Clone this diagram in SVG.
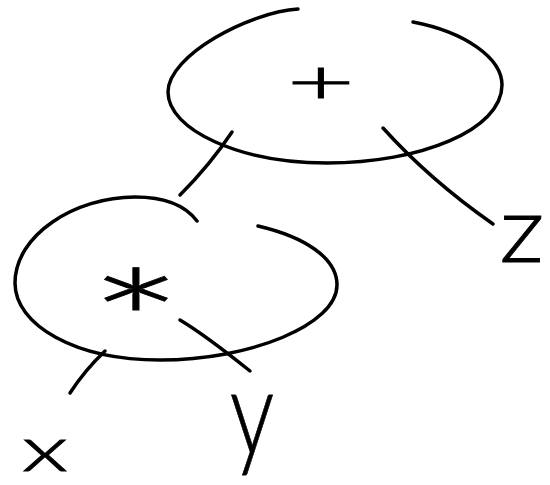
<svg xmlns="http://www.w3.org/2000/svg" width="550" height="485" viewBox="0 0 550 485">
<style>
.s{fill:none;stroke:#000;stroke-width:3.5;stroke-linecap:round;stroke-linejoin:round}
.t{font-family:Lato,"Liberation Sans",sans-serif;font-weight:300;fill:#000;stroke:#000;stroke-width:0.8;text-anchor:middle}
</style>
<rect width="550" height="485" fill="#fff"/>
<g id="connectors">
<path class="s" d="M232,132 Q210,165 180,195"/>
<path class="s" d="M383,128 Q430,180 493,224"/>
<path class="s" d="M105,351 Q85,370 70,393"/>
<path class="s" d="M180,320 Q205,335 250,371"/>
</g>
<g id="node-plus">
<path class="s" d="M413,22 C465,32 502,58 502,85 C502,130 420,163 327,163 C240,163 168,130 168,92 C168,55 250,12 298,9"/>
<text class="t" font-size="62" transform="translate(321,83) scale(1.9,1)" y="20">+</text>
</g>
<g id="node-times">
<path class="s" d="M258,226 C305,237 337,258 337,285 C337,325 250,360 160,360 C75,360 15,325 15,283 C15,235 75,197 135,197 C165,197 185,205 197,221"/>
<text class="t" font-size="142" transform="translate(136,297) scale(1.6,1)" y="77">*</text>
</g>
<g id="leaf-x">
<text class="t" font-size="60" transform="translate(45,471) scale(1.65,1.05)">x</text>
</g>
<g id="leaf-y">
<text class="t" font-size="118" transform="translate(252,454) scale(0.75,1)">y</text>
</g>
<g id="leaf-z">
<text class="t" font-size="92" transform="translate(522,262) scale(1.1,1)">z</text>
</g>
</svg>
